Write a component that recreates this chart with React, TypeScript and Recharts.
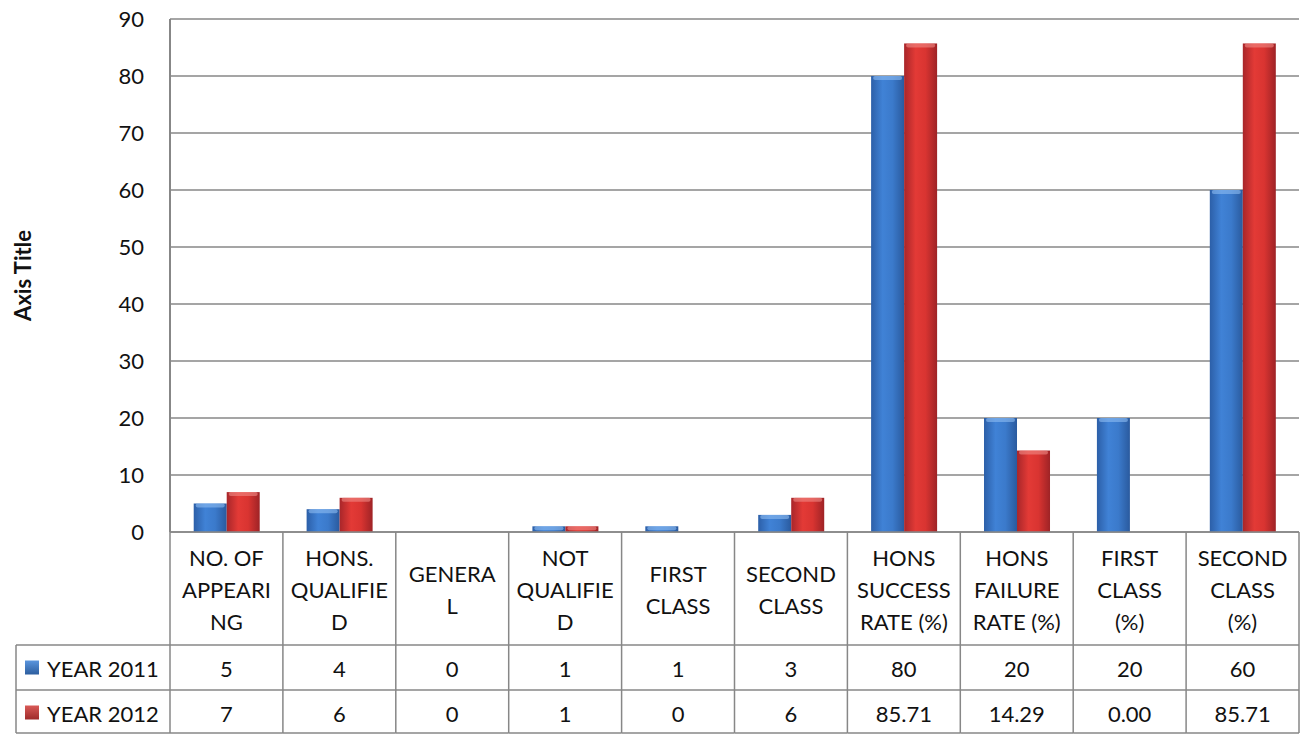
import React from "react";
import { BarChart, Bar, XAxis, YAxis, CartesianGrid } from "recharts";

const categories = [
  "NO. OF APPEARING",
  "HONS. QUALIFIED",
  "GENERAL",
  "NOT QUALIFIED",
  "FIRST CLASS",
  "SECOND CLASS",
  "HONS SUCCESS RATE (%)",
  "HONS FAILURE RATE (%)",
  "FIRST CLASS (%)",
  "SECOND CLASS (%)",
];

// header cell text, wrapped the way the original table wraps it
const categoryLines = [
  ["NO. OF", "APPEARI", "NG"],
  ["HONS.", "QUALIFIE", "D"],
  ["GENERA", "L"],
  ["NOT", "QUALIFIE", "D"],
  ["FIRST", "CLASS"],
  ["SECOND", "CLASS"],
  ["HONS", "SUCCESS", "RATE (%)"],
  ["HONS", "FAILURE", "RATE (%)"],
  ["FIRST", "CLASS", "(%)"],
  ["SECOND", "CLASS", "(%)"],
];

const year2011 = [5, 4, 0, 1, 1, 3, 80, 20, 20, 60];
const year2012 = [7, 6, 0, 1, 0, 6, 85.71, 14.29, 0, 85.71];
const year2011Labels = ["5", "4", "0", "1", "1", "3", "80", "20", "20", "60"];
const year2012Labels = ["7", "6", "0", "1", "0", "6", "85.71", "14.29", "0.00", "85.71"];

const seriesNames = ["YEAR 2011", "YEAR 2012"];
const yTicks = [0, 10, 20, 30, 40, 50, 60, 70, 80, 90];

const data = categories.map((name, i) => ({
  name,
  y2011: year2011[i],
  y2012: year2012[i],
}));

const W = 1300;
const H = 734;
const M = { top: 19, right: 1, left: 0, bottom: 0 };
const Y_W = 170;
const X_H = 202;
const COL_W = (W - Y_W - M.right) / categories.length;
const FONT = "Lato, 'Open Sans', sans-serif";
const GRID = "#878787";

const HEAD_H = 113;
const ROW_H = 45;

const TableTick = (props: any) => {
  const { x, y, payload } = props;
  const i = payload.index;
  const lines = categoryLines[i];
  const left = x - COL_W / 2;
  const right = x + COL_W / 2;
  const r1 = y + HEAD_H;
  const r2 = r1 + ROW_H;
  const r3 = H - 1;
  const mid = y + HEAD_H / 2;
  const lh = 32;
  return (
    <g>
      <line x1={left} x2={left} y1={y} y2={r3} stroke={GRID} strokeWidth={1.5} />
      {i === categories.length - 1 && (
        <line x1={right} x2={right} y1={y} y2={r3} stroke={GRID} strokeWidth={1.5} />
      )}
      <line x1={i === 0 ? 16 : left} x2={right} y1={r1} y2={r1} stroke={GRID} strokeWidth={1.5} />
      <line x1={i === 0 ? 16 : left} x2={right} y1={r2} y2={r2} stroke={GRID} strokeWidth={1.5} />
      <line x1={i === 0 ? 16 : left} x2={right} y1={r3} y2={r3} stroke={GRID} strokeWidth={1.5} />
      {i === 0 && (
        <g>
          <line x1={16} x2={16} y1={r1} y2={r3} stroke={GRID} strokeWidth={1.5} />
          <rect x={25} y={r1 + ROW_H / 2 - 7} width={14} height={14} fill="url(#blueLeg)" />
          <rect x={25} y={r2 + ROW_H / 2 - 7} width={14} height={14} fill="url(#redLeg)" />
          <text x={47} y={r1 + ROW_H / 2 + 1} fontFamily={FONT} fontSize={22} fill="#111" dominantBaseline="central">
            {seriesNames[0]}
          </text>
          <text x={47} y={r2 + ROW_H / 2 + 1} fontFamily={FONT} fontSize={22} fill="#111" dominantBaseline="central">
            {seriesNames[1]}
          </text>
        </g>
      )}
      <text fontFamily={FONT} fontSize={22} fill="#111" textAnchor="middle" dominantBaseline="central">
        {lines.map((l, k) => (
          <tspan key={k} x={x} y={mid + (k - (lines.length - 1) / 2) * lh}>
            {l}
          </tspan>
        ))}
      </text>
      <text x={x} y={r1 + ROW_H / 2 + 1} fontFamily={FONT} fontSize={22} fill="#111" textAnchor="middle" dominantBaseline="central">
        {year2011Labels[i]}
      </text>
      <text x={x} y={r2 + ROW_H / 2 + 1} fontFamily={FONT} fontSize={22} fill="#111" textAnchor="middle" dominantBaseline="central">
        {year2012Labels[i]}
      </text>
    </g>
  );
};

const makeShape = (grad: string, cap: string) => (p: any) => {
  const { x, y, width, height } = p;
  if (!height || height <= 0) return <g />;
  return (
    <g>
      <rect x={x} y={y} width={width} height={height} fill={`url(#${grad})`} />
      <rect x={x + 2} y={y} width={Math.max(width - 4, 0)} height={Math.min(4, height)} rx={2} fill={cap} opacity={0.6} />
    </g>
  );
};

const AxisTitle = (props: any) => {
  const vb = props.viewBox || {};
  const cy = vb.y + vb.height / 2;
  return (
    <text
      x={22}
      y={cy}
      transform={`rotate(-90, 22, ${cy})`}
      textAnchor="middle"
      dominantBaseline="central"
      fontFamily={FONT}
      fontSize={22}
      fontWeight="bold"
      fill="#111"
    >
      Axis Title
    </text>
  );
};

export default function App() {
  return (
    <div style={{ position: "absolute", left: 0, top: 0, width: W, height: H, background: "#fff" }}>
      <BarChart width={W} height={H} data={data} margin={M} barCategoryGap="21%" barGap={0}>
        <defs>
          <linearGradient id="blueGrad" x1="0" y1="0" x2="1" y2="0">
            <stop offset="0%" stopColor="#2c5fa8" />
            <stop offset="35%" stopColor="#4082d6" />
            <stop offset="65%" stopColor="#3b7acb" />
            <stop offset="100%" stopColor="#2a5a9e" />
          </linearGradient>
          <linearGradient id="redGrad" x1="0" y1="0" x2="1" y2="0">
            <stop offset="0%" stopColor="#a8262a" />
            <stop offset="35%" stopColor="#e33a36" />
            <stop offset="65%" stopColor="#d93431" />
            <stop offset="100%" stopColor="#9e2326" />
          </linearGradient>
          <linearGradient id="blueLeg" x1="0" y1="0" x2="0" y2="1">
            <stop offset="0%" stopColor="#5a95dd" />
            <stop offset="100%" stopColor="#2d5e9f" />
          </linearGradient>
          <linearGradient id="redLeg" x1="0" y1="0" x2="0" y2="1">
            <stop offset="0%" stopColor="#d95a57" />
            <stop offset="100%" stopColor="#9e2a2a" />
          </linearGradient>
        </defs>
        <CartesianGrid vertical={false} stroke={GRID} strokeWidth={1.4} />
        <XAxis
          dataKey="name"
          height={X_H}
          interval={0}
          tickLine={false}
          tickSize={0}
          tickMargin={0}
          axisLine={{ stroke: GRID, strokeWidth: 1.5 }}
          tick={<TableTick />}
        />
        <YAxis
          width={Y_W}
          domain={[0, 90]}
          ticks={yTicks}
          interval={0}
          tickLine={false}
          tickSize={0}
          tickMargin={26}
          axisLine={{ stroke: GRID, strokeWidth: 2 }}
          tick={{ fontFamily: FONT, fontSize: 22, fill: "#111" }}
          label={<AxisTitle />}
        />
        <Bar dataKey="y2011" name={seriesNames[0]} shape={makeShape("blueGrad", "#8dbcf2")} isAnimationActive={false} />
        <Bar dataKey="y2012" name={seriesNames[1]} shape={makeShape("redGrad", "#f08a86")} isAnimationActive={false} />
      </BarChart>
    </div>
  );
}
